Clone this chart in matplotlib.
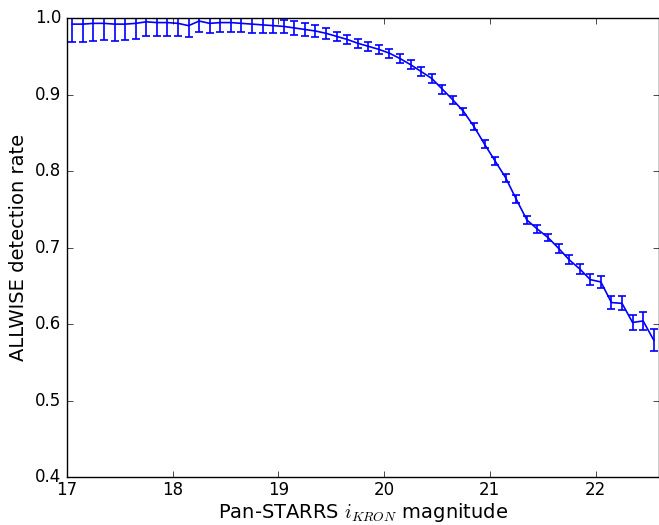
import numpy as np
import matplotlib
matplotlib.use('Agg')
import matplotlib.pyplot as plt

plt.style.use('classic')

# bin centres (Pan-STARRS i_KRON) and ALLWISE detection rate
mag = np.round(np.arange(17.05, 22.6, 0.1), 2)

rate = [0.992, 0.992, 0.993, 0.993, 0.992, 0.992, 0.993, 0.995, 0.994, 0.994,
        0.993, 0.990, 0.996, 0.993, 0.994, 0.994, 0.993, 0.992, 0.991, 0.990,
        0.989, 0.987, 0.985, 0.983, 0.980, 0.976, 0.972, 0.967, 0.963, 0.959,
        0.954, 0.947, 0.939, 0.930, 0.921, 0.907, 0.893, 0.878, 0.858, 0.835,
        0.813, 0.791, 0.763, 0.736, 0.724, 0.713, 0.699, 0.684, 0.672, 0.658,
        0.655, 0.628, 0.627, 0.602, 0.604, 0.579]

err = [0.024, 0.024, 0.023, 0.022, 0.022, 0.021, 0.020, 0.018, 0.018, 0.017,
       0.016, 0.015, 0.014, 0.013, 0.012, 0.012, 0.011, 0.011, 0.010, 0.010,
       0.009, 0.009, 0.008, 0.008, 0.007, 0.006, 0.006, 0.006, 0.006, 0.006,
       0.006, 0.006, 0.006, 0.006, 0.006, 0.006, 0.005, 0.005, 0.005, 0.005,
       0.005, 0.005, 0.005, 0.005, 0.005, 0.005, 0.006, 0.006, 0.006, 0.007,
       0.008, 0.009, 0.009, 0.010, 0.012, 0.014]

fig = plt.figure(figsize=(6.59, 5.25), dpi=100)
ax = fig.add_axes([67 / 659, 48 / 525, 1 - 67 / 659, (477 - 18) / 525])

ax.errorbar(mag, rate, yerr=err, color='b', ecolor='b', lw=1.2,
            elinewidth=1.2, capsize=3, capthick=1.2)

ax.set_xlim(17, 22.6)
ax.set_ylim(0.4, 1.0)
ax.set_xticks([17, 18, 19, 20, 21, 22])
ax.tick_params(labelsize=12)
ax.tick_params(axis='x', pad=3)
ax.set_xlabel('Pan-STARRS $i_{KRON}$ magnitude', fontsize=14, labelpad=1)
ax.set_ylabel('ALLWISE detection rate', fontsize=14)

fig.savefig('out.png', dpi=100)
